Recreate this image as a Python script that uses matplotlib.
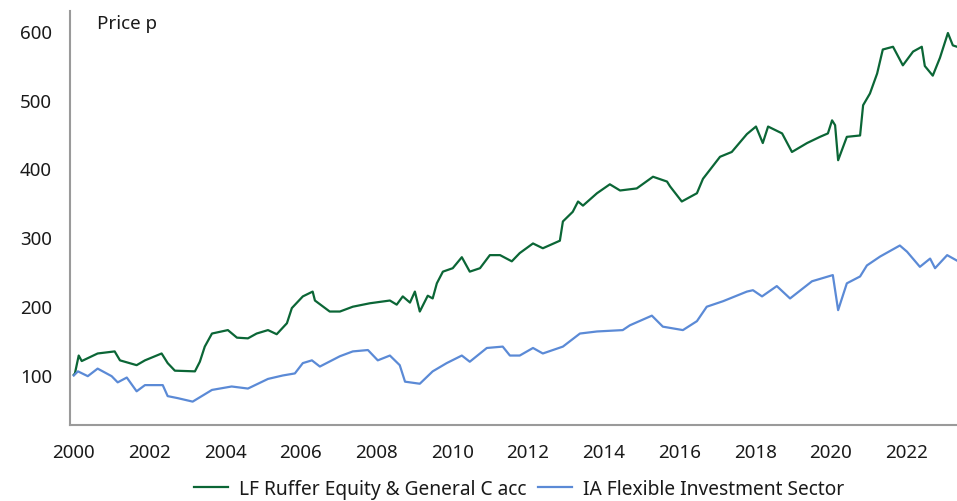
import matplotlib
matplotlib.use("Agg")
import matplotlib.pyplot as plt

#readings (decimal year, price p)
RUFFER_YEARS = [2000.00, 2000.03, 2000.13, 2000.21, 2000.63, 2001.08, 2001.22, 2001.66, 2001.88,
                2002.32, 2002.48, 2002.67, 2003.20, 2003.33, 2003.46, 2003.65, 2004.07, 2004.31,
                2004.60, 2004.83, 2005.13, 2005.36, 2005.63, 2005.76, 2006.05, 2006.31, 2006.37,
                2006.76, 2007.03, 2007.37, 2007.82, 2008.35, 2008.53, 2008.69, 2008.88, 2009.01,
                2009.14, 2009.35, 2009.48, 2009.59, 2009.75, 2010.01, 2010.25, 2010.46, 2010.73,
                2010.99, 2011.26, 2011.57, 2011.78, 2012.13, 2012.39, 2012.84, 2012.92, 2013.18,
                2013.32, 2013.45, 2013.82, 2014.16, 2014.43, 2014.87, 2015.30, 2015.67, 2015.75,
                2016.06, 2016.46, 2016.62, 2017.07, 2017.38, 2017.78, 2018.02, 2018.20, 2018.34,
                2018.71, 2018.97, 2019.37, 2019.71, 2019.92, 2020.03, 2020.11, 2020.19, 2020.42,
                2020.77, 2020.85, 2021.03, 2021.22, 2021.37, 2021.64, 2021.90, 2022.17, 2022.40,
                2022.48, 2022.69, 2022.88, 2023.09, 2023.22, 2023.33]
RUFFER_PRICE = [100, 102, 128, 120, 131, 134, 121, 114, 121,
                131, 117, 106, 105, 119, 141, 160, 165, 154,
                153, 160, 165, 159, 175, 197, 214, 221, 208,
                192, 192, 199, 204, 208, 202, 214, 205, 221,
                192, 215, 211, 233, 250, 255, 271, 250, 255,
                274, 274, 265, 277, 291, 284, 295, 323, 337,
                352, 346, 364, 377, 368, 371, 388, 381, 374,
                352, 364, 385, 417, 424, 450, 461, 437, 461,
                451, 424, 437, 446, 451, 470, 463, 412, 446,
                448, 492, 509, 538, 573, 577, 550, 570, 577,
                549, 535, 561, 597, 579, 577]

SECTOR_YEARS = [2000.00, 2000.11, 2000.37, 2000.63, 2001.00, 2001.16, 2001.40, 2001.66, 2001.88,
                2002.35, 2002.48, 2002.75, 2003.14, 2003.65, 2004.17, 2004.60, 2005.13, 2005.52,
                2005.84, 2006.05, 2006.29, 2006.50, 2007.03, 2007.37, 2007.77, 2008.03, 2008.35,
                2008.61, 2008.75, 2009.14, 2009.48, 2009.85, 2010.25, 2010.46, 2010.91, 2011.33,
                2011.52, 2011.78, 2012.13, 2012.39, 2012.92, 2013.37, 2013.82, 2014.50, 2014.69,
                2015.27, 2015.56, 2016.09, 2016.46, 2016.72, 2017.15, 2017.78, 2017.94, 2018.18,
                2018.57, 2018.92, 2019.50, 2020.05, 2020.19, 2020.42, 2020.77, 2020.95, 2021.30,
                2021.82, 2022.01, 2022.35, 2022.62, 2022.75, 2023.07, 2023.33]
SECTOR_PRICE = [99, 105, 98, 109, 98, 89, 96, 76, 85,
                85, 69, 66, 61, 78, 83, 80, 94, 99,
                102, 117, 121, 112, 127, 134, 136, 121, 128,
                114, 90, 87, 105, 117, 128, 119, 139, 141,
                128, 128, 139, 131, 141, 160, 163, 165, 172,
                186, 170, 165, 178, 199, 207, 221, 223, 214,
                229, 211, 236, 245, 194, 233, 243, 259, 272,
                288, 279, 257, 269, 255, 274, 266]

X_TICKS = list(range(2000, 2023, 2))
Y_TICKS = [100, 200, 300, 400, 500, 600]

GREEN = "#0b6636"
BLUE = "#5b8ad6"
GREY = "#9a9a9a"
TEXT = "#1a1a1a"
FS = 13.5

plt.rcParams["font.family"] = ["Noto Sans", "DejaVu Sans"]

fig = plt.figure(figsize=(9.57, 5.02), dpi=100)
ax = fig.add_axes([70 / 957, 76 / 502, 887 / 957, 414 / 502])

ax.plot(RUFFER_YEARS, RUFFER_PRICE, color=GREEN, lw=1.6, label="LF Ruffer Equity & General C acc")
ax.plot(SECTOR_YEARS, SECTOR_PRICE, color=BLUE, lw=1.6, label="IA Flexible Investment Sector")

ax.set_xlim(1999.9, 2023.33)
ax.set_ylim(27, 629)
ax.set_xticks(X_TICKS)
ax.set_xticklabels([str(y) for y in X_TICKS])
ax.set_yticks(Y_TICKS)

for side in ["top", "right"]:
    ax.spines[side].set_visible(False)
for side in ["left", "bottom"]:
    ax.spines[side].set_color(GREY)
    ax.spines[side].set_linewidth(1.5)

ax.tick_params(axis="both", length=0, labelsize=FS, colors=TEXT)
ax.tick_params(axis="x", pad=13)
ax.tick_params(axis="y", pad=13)

#"Price p" sits just inside the top left corner of the plot
fig.text(97 / 957, 1 - 24 / 502, "Price p", fontsize=FS, color=TEXT, va="center")

fig.legend(loc="lower center", bbox_to_anchor=(0.542, -0.03), ncol=2, frameon=False,
           fontsize=13.8, handlelength=1.8, columnspacing=0.6, handletextpad=0.55,
           labelcolor=TEXT)

fig.savefig("out.png", dpi=100)
